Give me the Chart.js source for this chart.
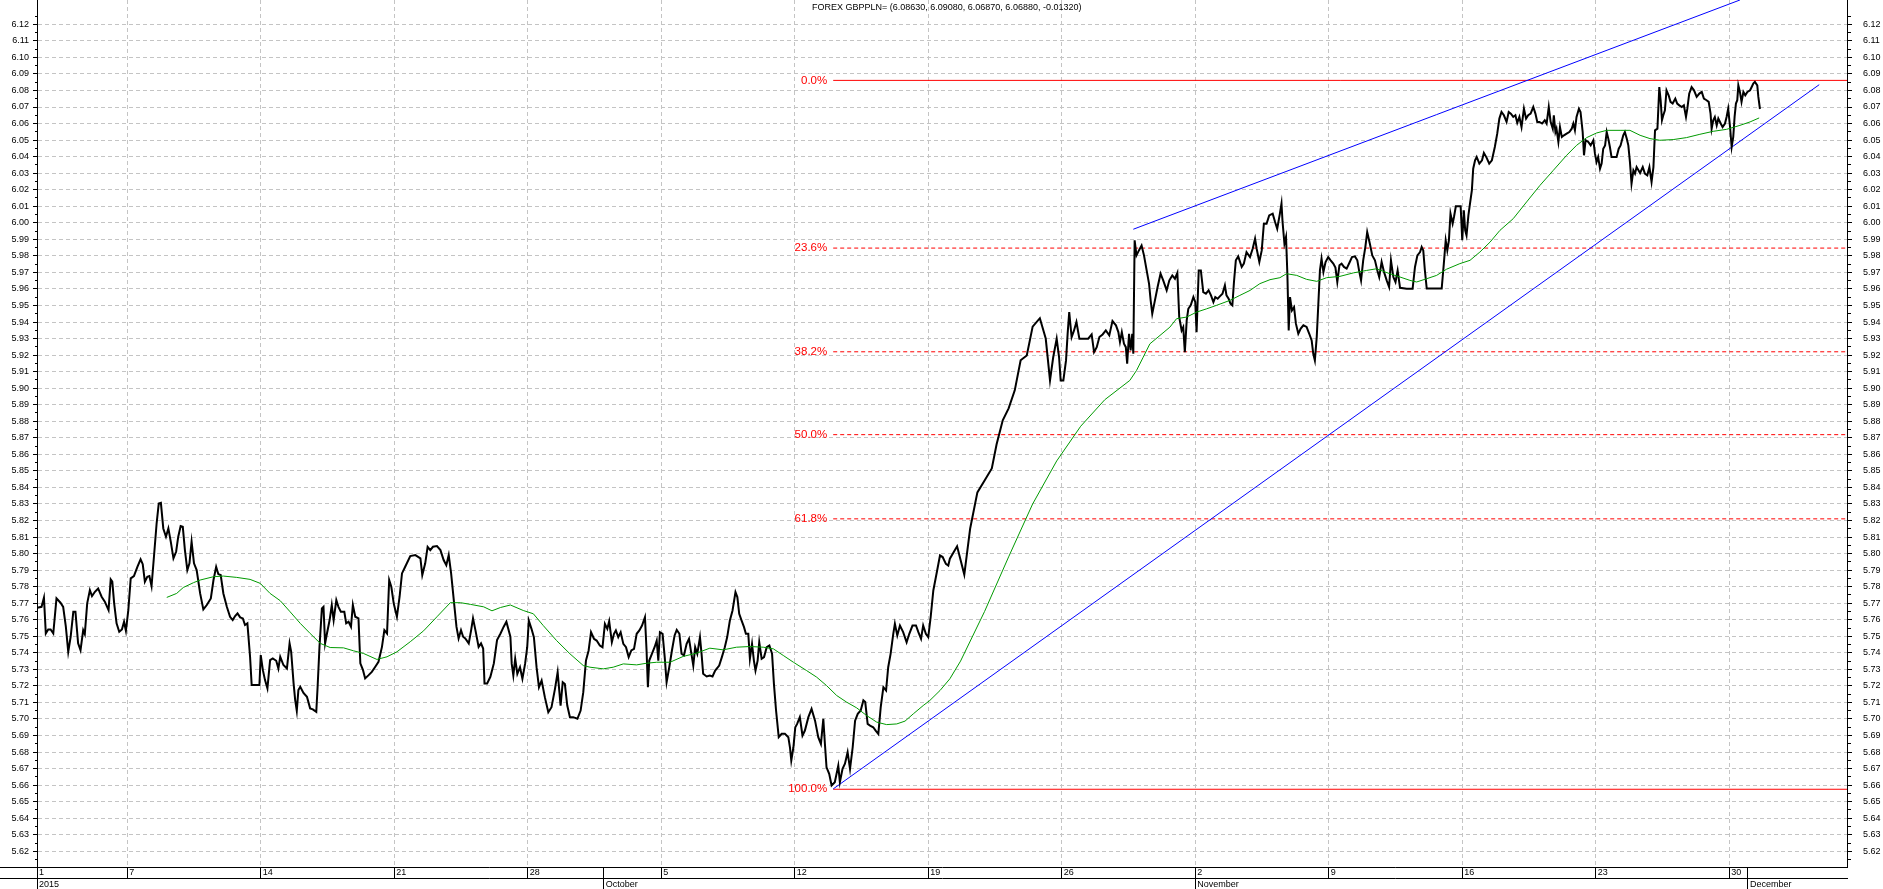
<!DOCTYPE html>
<html>
<head>
<meta charset="utf-8">
<title>FOREX GBPPLN=</title>
<script src="https://cdn.jsdelivr.net/npm/chart.js@4.4.1/dist/chart.umd.min.js"></script>
<style>
  body { margin: 0; background: #fff; }
  #wrap { position: relative; width: 1883px; height: 889px; }
  #title { position: absolute; left: 812px; top: 2px; font: 9px 'Liberation Sans', Arial, sans-serif; line-height: 10px; color: #000; white-space: pre; }
</style>
</head>
<body>
<div id="wrap">
  <canvas id="ourChart" width="1883" height="889"></canvas>
  <div id="title"></div>
</div>
<script>
// x values are trading days counted from 1 September 2015
const lastQuote = ['6.08630', '6.09080', '6.06870', '6.06880', '-0.01320'];

const weekDays = [0.62, 4, 9, 14, 19, 24, 29, 34, 39, 44, 49, 54, 59, 64];
const weekLabels = ['1', '7', '14', '21', '28', '5', '12', '19', '26', '2', '9', '16', '23', '30'];
const monthDays = [0.62, 21.85, 44, 64.7];
const monthLabels = ['2015', 'October', 'November', 'December'];

// GBP/PLN quotes [day, price]
const priceSep = [[0.63,5.7672],[0.79,5.7678],[0.88,5.7733],[0.95,5.7517],[1.04,5.7541],[1.13,5.7541],[1.23,5.7517],[1.35,5.7729],[1.50,5.7703],[1.60,5.7678],[1.70,5.7558],[1.79,5.7406],[1.88,5.7497],[1.98,5.7648],[2.06,5.7648],[2.16,5.7457],[2.25,5.7416],[2.35,5.7537],[2.41,5.7513],[2.50,5.7699],[2.60,5.7779],[2.68,5.7743],[2.79,5.7769],[2.91,5.7789],[3.04,5.7739],[3.16,5.7709],[3.30,5.7658],[3.38,5.7844],[3.44,5.7830],[3.51,5.7699],[3.60,5.7578],[3.70,5.7527],[3.80,5.7541],[3.88,5.7588],[3.95,5.7533],[4.04,5.7658],[4.13,5.7850],[4.25,5.7864],[4.38,5.7920],[4.50,5.7965],[4.58,5.7936],[4.66,5.7830],[4.75,5.7860],[4.83,5.7864],[4.91,5.7803],[5.00,5.7981],[5.10,5.8182],[5.18,5.8303],[5.26,5.8307],[5.35,5.8152],[5.45,5.8102],[5.54,5.8152],[5.63,5.8072],[5.73,5.7971],[5.83,5.8011],[5.91,5.8102],[6.00,5.8166],[6.08,5.8162],[6.16,5.8021],[6.25,5.7900],[6.33,5.7941],[6.41,5.8072],[6.50,5.7941],[6.60,5.7900],[6.73,5.7759],[6.85,5.7662],[6.98,5.7689],[7.13,5.7729],[7.23,5.7840],[7.33,5.7920],[7.41,5.7876],[7.50,5.7870],[7.60,5.7759],[7.73,5.7678],[7.85,5.7618],[7.95,5.7598],[8.04,5.7622],[8.13,5.7638],[8.23,5.7614],[8.33,5.7608],[8.41,5.7568],[8.50,5.7578],[8.60,5.7376],[8.66,5.7205],[8.95,5.7205],[9.00,5.7386],[9.08,5.7295],[9.16,5.7235],[9.25,5.7185],[9.35,5.7356],[9.45,5.7366],[9.58,5.7352],[9.66,5.7305],[9.73,5.7376],[9.85,5.7326],[9.98,5.7305],[10.08,5.7457],[10.14,5.7406],[10.23,5.7215],[10.29,5.7114],[10.35,5.7049],[10.41,5.7175],[10.48,5.7195],[10.60,5.7158],[10.73,5.7134],[10.85,5.7064],[10.95,5.7058],[11.08,5.7043],[11.13,5.7195],[11.20,5.7436],[11.29,5.7668],[11.35,5.7678],[11.41,5.7457],[11.48,5.7517],[11.58,5.7598],[11.66,5.7689],[11.73,5.7598],[11.83,5.7719],[11.91,5.7678],[12.00,5.7648],[12.13,5.7648],[12.20,5.7578],[12.29,5.7588],[12.38,5.7558],[12.45,5.7689],[12.54,5.7618],[12.66,5.7608],[12.73,5.7336],[12.83,5.7295],[12.91,5.7245],[13.04,5.7265],[13.16,5.7285],[13.29,5.7316],[13.41,5.7346],[13.54,5.7436],[13.63,5.7537],[13.73,5.7517],[13.81,5.7840],[13.89,5.7799],[13.98,5.7699],[14.10,5.7618],[14.20,5.7739],[14.29,5.7880],[14.41,5.7920],[14.60,5.7985],[14.79,5.7991],[14.98,5.7971],[15.05,5.7870],[15.16,5.7941],[15.25,5.8041],[15.35,5.8021],[15.45,5.8041],[15.60,5.8045],[15.73,5.8021],[15.85,5.7961],[15.95,5.7930],[16.04,5.7991],[16.13,5.7880],[16.23,5.7719],[16.33,5.7558],[16.41,5.7487],[16.50,5.7537],[16.58,5.7497],[16.66,5.7487],[16.79,5.7457],[16.88,5.7537],[16.95,5.7608],[17.04,5.7537],[17.16,5.7436],[17.25,5.7457],[17.33,5.7426],[17.38,5.7215],[17.48,5.7215],[17.60,5.7255],[17.73,5.7336],[17.85,5.7477],[17.98,5.7517],[18.10,5.7558],[18.20,5.7588],[18.35,5.7497],[18.40,5.7333],[18.46,5.7263],[18.53,5.7364],[18.61,5.7273],[18.71,5.7313],[18.80,5.7243],[18.90,5.7333],[18.98,5.7434],[19.04,5.7595],[19.14,5.7545],[19.23,5.7495],[19.33,5.7313],[19.42,5.7192],[19.52,5.7232],[19.64,5.7132],[19.77,5.7041],[19.89,5.7071],[20.02,5.7182],[20.12,5.7283],[20.23,5.7081],[20.31,5.7222],[20.39,5.7212],[20.48,5.7081],[20.58,5.7011],[20.70,5.7011],[20.86,5.7001],[20.98,5.7051],[21.08,5.7162],[21.18,5.7353],[21.28,5.7414],[21.37,5.7525],[21.48,5.7485],[21.58,5.7474],[21.70,5.7444],[21.80,5.7434]];

const priceOct = [[21.89,5.7575],[21.98,5.7545],[22.05,5.7591],[22.15,5.7464],[22.23,5.7515],[22.30,5.7535],[22.39,5.7495],[22.48,5.7525],[22.58,5.7454],[22.68,5.7434],[22.78,5.7374],[22.88,5.7414],[22.98,5.7424],[23.08,5.7515],[23.18,5.7535],[23.28,5.7565],[23.39,5.7616],[23.45,5.7414],[23.50,5.7192],[23.55,5.7353],[23.65,5.7394],[23.75,5.7434],[23.83,5.7474],[23.89,5.7353],[23.95,5.7525],[24.05,5.7515],[24.13,5.7374],[24.20,5.7222],[24.30,5.7313],[24.40,5.7414],[24.50,5.7505],[24.58,5.7539],[24.68,5.7515],[24.76,5.7394],[24.85,5.7384],[24.95,5.7454],[25.04,5.7485],[25.13,5.7394],[25.20,5.7323],[25.27,5.7434],[25.35,5.7394],[25.45,5.7495],[25.51,5.7394],[25.57,5.7273],[25.70,5.7257],[25.82,5.7263],[25.92,5.7257],[26.02,5.7293],[26.17,5.7323],[26.27,5.7374],[26.38,5.7434],[26.47,5.7495],[26.57,5.7595],[26.67,5.7656],[26.78,5.7767],[26.85,5.7737],[26.92,5.7636],[27.01,5.7595],[27.10,5.7555],[27.17,5.7515],[27.26,5.7515],[27.32,5.7364],[27.40,5.7454],[27.47,5.7353],[27.53,5.7293],[27.61,5.7353],[27.67,5.7464],[27.76,5.7364],[27.85,5.7374],[27.95,5.7434],[28.05,5.7444],[28.15,5.7394],[28.22,5.7212],[28.30,5.7051],[28.40,5.6890],[28.51,5.6910],[28.63,5.6910],[28.76,5.6890],[28.82,5.6829],[28.87,5.6749],[28.95,5.6829],[29.02,5.6950],[29.09,5.6970],[29.19,5.7011],[29.29,5.6900],[29.38,5.6930],[29.51,5.7011],[29.63,5.7061],[29.76,5.6990],[29.88,5.6890],[29.98,5.6849],[30.07,5.7001],[30.13,5.6849],[30.19,5.6708],[30.29,5.6668],[30.38,5.6598],[30.50,5.6618],[30.63,5.6718],[30.69,5.6618],[30.79,5.6698],[30.88,5.6729],[30.98,5.6799],[31.07,5.6698],[31.17,5.6829],[31.26,5.6990],[31.36,5.7031],[31.47,5.7051],[31.57,5.7112],[31.64,5.7102],[31.73,5.6970],[31.82,5.6960],[31.94,5.6950],[32.03,5.6930],[32.13,5.6910],[32.22,5.7071],[32.32,5.7192],[32.42,5.7172],[32.50,5.7313],[32.59,5.7394],[32.69,5.7515],[32.75,5.7575],[32.84,5.7505],[32.94,5.7565],[33.06,5.7525],[33.19,5.7464],[33.29,5.7515],[33.41,5.7565],[33.54,5.7565],[33.63,5.7525],[33.73,5.7485],[33.81,5.7565],[33.91,5.7515],[34.00,5.7495],[34.09,5.7616],[34.19,5.7777],[34.31,5.7878],[34.44,5.7989],[34.54,5.7979],[34.66,5.7938],[34.75,5.7928],[34.81,5.7969],[35.08,5.8044],[35.35,5.7873],[35.57,5.8152],[35.84,5.8370],[36.11,5.8442],[36.38,5.8515],[36.56,5.8661],[36.79,5.8806],[37.01,5.8878],[37.24,5.8987],[37.46,5.9169],[37.69,5.9198],[37.91,5.9372],[38.18,5.9423],[38.40,5.9300],[38.56,5.9047],[38.68,5.9187],[38.81,5.9299],[38.90,5.9187],[38.96,5.9047],[39.06,5.9047],[39.16,5.9168],[39.22,5.9328],[39.28,5.9460],[39.37,5.9308],[39.46,5.9349],[39.55,5.9400],[39.66,5.9299],[39.81,5.9299],[39.99,5.9299],[40.12,5.9325],[40.21,5.9218],[40.31,5.9248],[40.41,5.9309],[40.53,5.9325],[40.65,5.9349],[40.78,5.9319],[40.90,5.9406],[41.03,5.9380],[41.12,5.9339],[41.18,5.9279],[41.25,5.9339],[41.33,5.9269],[41.40,5.9248],[41.45,5.9148],[41.52,5.9329],[41.58,5.9228],[41.64,5.9329],[41.68,5.9208],[41.73,5.9894],[41.80,5.9803],[41.89,5.9833],[41.99,5.9863],[42.08,5.9803],[42.18,5.9712],[42.27,5.9631],[42.33,5.9531],[42.39,5.9450],[42.49,5.9531],[42.59,5.9612],[42.70,5.9692],[42.80,5.9652],[42.93,5.9591],[43.03,5.9652],[43.14,5.9682],[43.24,5.9662],[43.33,5.9697],[43.40,5.9430],[43.49,5.9349],[43.55,5.9369],[43.61,5.9218],[43.68,5.9410],[43.74,5.9480],[43.83,5.9501],[43.93,5.9551],[44.00,5.9521]];

const priceNov = [[44.05,5.9339],[44.13,5.9712],[44.21,5.9712],[44.30,5.9581],[44.40,5.9571],[44.50,5.9591],[44.59,5.9561],[44.68,5.9521],[44.75,5.9551],[44.84,5.9541],[44.92,5.9555],[45.02,5.9571],[45.11,5.9622],[45.17,5.9561],[45.25,5.9541],[45.32,5.9511],[45.39,5.9501],[45.45,5.9642],[45.52,5.9773],[45.61,5.9797],[45.74,5.9733],[45.82,5.9753],[45.92,5.9823],[46.05,5.9793],[46.15,5.9843],[46.24,5.9904],[46.30,5.9843],[46.40,5.9763],[46.49,5.9833],[46.57,5.9994],[46.67,5.9994],[46.77,6.0045],[46.90,6.0055],[46.99,6.0005],[47.07,5.9964],[47.17,6.0055],[47.23,6.0116],[47.27,6.0005],[47.34,5.9873],[47.40,5.9914],[47.45,5.9692],[47.50,5.9349],[47.55,5.9551],[47.62,5.9470],[47.70,5.9490],[47.77,5.9390],[47.86,5.9329],[47.95,5.9360],[48.05,5.9380],[48.17,5.9370],[48.27,5.9329],[48.36,5.9289],[48.42,5.9208],[48.48,5.9168],[48.55,5.9309],[48.61,5.9510],[48.67,5.9712],[48.73,5.9783],[48.80,5.9702],[48.88,5.9763],[48.98,5.9793],[49.07,5.9773],[49.17,5.9753],[49.25,5.9729],[49.32,5.9642],[49.40,5.9743],[49.48,5.9753],[49.57,5.9733],[49.67,5.9723],[49.77,5.9757],[49.87,5.9793],[49.98,5.9797],[50.07,5.9773],[50.14,5.9708],[50.21,5.9652],[50.29,5.9773],[50.37,5.9853],[50.44,5.9944],[50.54,5.9873],[50.63,5.9803],[50.73,5.9773],[50.82,5.9712],[50.89,5.9672],[50.98,5.9763],[51.07,5.9702],[51.17,5.9652],[51.26,5.9612],[51.33,5.9773],[51.42,5.9672],[51.50,5.9642],[51.58,5.9712],[51.67,5.9607],[51.92,5.9601],[52.14,5.9601],[52.23,5.9733],[52.32,5.9803],[52.42,5.9823],[52.48,5.9854],[52.54,5.9833],[52.60,5.9713],[52.67,5.9602],[53.23,5.9602],[53.31,5.9753],[53.38,5.9894],[53.44,5.9833],[53.50,5.9894],[53.56,6.0055],[53.64,5.9995],[53.69,6.0035],[53.76,6.0100],[53.94,6.0100],[54.00,5.9894],[54.06,6.0075],[54.11,5.9954],[54.16,5.9924],[54.23,6.0045],[54.29,6.0116],[54.36,6.0196],[54.41,6.0327],[54.48,6.0378],[54.54,6.0398],[54.64,6.0358],[54.74,6.0378],[54.81,6.0422],[54.91,6.0394],[55.01,6.0358],[55.11,6.0378],[55.22,6.0458],[55.31,6.0539],[55.39,6.0630],[55.47,6.0670],[55.56,6.0650],[55.66,6.0610],[55.74,6.0670],[55.82,6.0660],[55.91,6.0640],[55.99,6.0650],[56.06,6.0604],[56.14,6.0640],[56.22,6.0579],[56.31,6.0690],[56.39,6.0630],[56.47,6.0650],[56.56,6.0660],[56.66,6.0700],[56.74,6.0660],[56.81,6.0610],[56.89,6.0610],[56.99,6.0600],[57.09,6.0620],[57.16,6.0600],[57.24,6.0700],[57.31,6.0610],[57.39,6.0569],[57.43,6.0650],[57.49,6.0549],[57.53,6.0569],[57.60,6.0489],[57.66,6.0579],[57.73,6.0519],[57.81,6.0529],[57.91,6.0539],[58.01,6.0549],[58.10,6.0569],[58.16,6.0600],[58.22,6.0559],[58.28,6.0640],[58.37,6.0690],[58.43,6.0670],[58.51,6.0549],[58.56,6.0408],[58.62,6.0499],[58.72,6.0489],[58.81,6.0468],[58.91,6.0499],[58.97,6.0418],[59.03,6.0368],[59.09,6.0398],[59.16,6.0327],[59.22,6.0358],[59.28,6.0448],[59.35,6.0468],[59.41,6.0549],[59.47,6.0509],[59.53,6.0458],[59.59,6.0398],[59.78,6.0398],[59.86,6.0448],[59.93,6.0468],[60.03,6.0529],[60.09,6.0549],[60.16,6.0509],[60.22,6.0468],[60.28,6.0368],[60.34,6.0237],[60.41,6.0317],[60.47,6.0297],[60.53,6.0337],[60.66,6.0301],[60.76,6.0337],[60.84,6.0297],[60.93,6.0287],[61.01,6.0337],[61.09,6.0247],[61.16,6.0337],[61.22,6.0559],[61.31,6.0569],[61.38,6.0821],[61.43,6.0741],[61.48,6.0620],[61.53,6.0650],[61.59,6.0680],[61.65,6.0801],[61.73,6.0771],[61.80,6.0731],[61.88,6.0721],[61.98,6.0751],[62.05,6.0721],[62.13,6.0710],[62.22,6.0700],[62.30,6.0710],[62.38,6.0640],[62.43,6.0690],[62.50,6.0781],[62.59,6.0821],[62.68,6.0801],[62.78,6.0761],[62.88,6.0781],[62.97,6.0791],[63.05,6.0751],[63.15,6.0741],[63.23,6.0731],[63.30,6.0660],[63.34,6.0569],[63.40,6.0620],[63.46,6.0640],[63.53,6.0589],[63.59,6.0630],[63.68,6.0600],[63.75,6.0579],[63.84,6.0600],[63.90,6.0640],[63.96,6.0690],[64.03,6.0579],[64.09,6.0458],[64.15,6.0519],[64.20,6.0640],[64.25,6.0721],[64.30,6.0741],[64.34,6.0831],[64.40,6.0791],[64.46,6.0731],[64.53,6.0791],[64.60,6.0771]];

const priceDec = [[64.68,6.0791],[64.78,6.0801],[64.84,6.0821],[64.90,6.0842],[64.96,6.0852],[65.05,6.0831],[65.09,6.0761],[65.15,6.0688]];

// moving average (green)
const movingAvg = [[5.48,5.7735],[5.85,5.7759],[6.10,5.7795],[6.48,5.7824],[6.73,5.7840],[7.23,5.7860],[7.60,5.7864],[8.10,5.7856],[8.60,5.7844],[8.98,5.7820],[9.35,5.7759],[9.73,5.7715],[10.10,5.7648],[10.48,5.7578],[10.85,5.7517],[11.23,5.7457],[11.60,5.7432],[12.10,5.7430],[12.48,5.7412],[12.85,5.7396],[13.35,5.7360],[13.73,5.7376],[14.10,5.7406],[14.60,5.7467],[15.10,5.7533],[15.60,5.7618],[16.10,5.7703],[16.48,5.7703],[16.85,5.7693],[17.35,5.7678],[17.66,5.7654],[17.98,5.7674],[18.35,5.7689],[18.83,5.7656],[19.21,5.7636],[19.58,5.7565],[20.08,5.7474],[20.58,5.7394],[21.08,5.7323],[21.33,5.7313],[21.83,5.7303],[22.20,5.7313],[22.58,5.7333],[23.08,5.7327],[23.45,5.7337],[23.83,5.7343],[24.33,5.7343],[24.82,5.7378],[25.32,5.7398],[25.82,5.7428],[26.32,5.7418],[26.82,5.7434],[27.32,5.7438],[27.82,5.7434],[28.20,5.7424],[28.57,5.7384],[28.95,5.7343],[29.44,5.7293],[29.82,5.7253],[30.19,5.7202],[30.57,5.7142],[30.94,5.7102],[31.32,5.7067],[31.69,5.7021],[32.07,5.6981],[32.44,5.6966],[32.82,5.6970],[33.13,5.6987],[33.44,5.7031],[33.81,5.7081],[34.06,5.7112],[34.44,5.7172],[34.81,5.7243],[35.21,5.7350],[36.11,5.7650],[37.01,5.7980],[37.91,5.8300],[38.81,5.8560],[39.71,5.8770],[40.61,5.8930],[41.55,5.9047],[41.80,5.9107],[42.05,5.9187],[42.30,5.9268],[42.68,5.9319],[43.05,5.9369],[43.30,5.9420],[43.68,5.9430],[44.05,5.9460],[44.43,5.9480],[44.80,5.9501],[45.30,5.9531],[45.67,5.9561],[46.05,5.9591],[46.42,5.9632],[46.80,5.9656],[47.17,5.9668],[47.42,5.9692],[47.80,5.9682],[48.17,5.9658],[48.55,5.9646],[48.92,5.9668],[49.42,5.9676],[49.92,5.9697],[50.42,5.9712],[50.79,5.9722],[51.29,5.9692],[51.67,5.9672],[52.04,5.9652],[52.29,5.9642],[52.67,5.9662],[53.04,5.9682],[53.41,5.9719],[53.91,5.9753],[54.29,5.9773],[54.66,5.9823],[55.04,5.9883],[55.41,5.9954],[55.91,6.0025],[56.41,6.0126],[56.91,6.0226],[57.41,6.0317],[57.91,6.0408],[58.28,6.0468],[58.66,6.0515],[59.03,6.0543],[59.41,6.0559],[59.91,6.0559],[60.28,6.0559],[60.66,6.0529],[61.03,6.0509],[61.40,6.0499],[61.90,6.0503],[62.40,6.0515],[62.90,6.0535],[63.40,6.0553],[63.90,6.0565],[64.40,6.0589],[64.78,6.0610],[65.12,6.0634]];

// trend lines (blue) [day, price] end points
const trendLower = [[30.44, 5.6577], [67.37, 6.0835]];
const trendUpper = [[41.68, 5.9961], [64.40, 6.1347]];

// fibonacci retracement
const fibLabels = ['0.0%', '23.6%', '38.2%', '50.0%', '61.8%', '100.0%'];
const fibLevels = [6.0861, 5.9847, 5.9220, 5.8719, 5.8210, 5.6575];
const fibStartDay = 30.44;

const X_MIN = 0.62, X_MAX = 68.41;
const Y_MIN = 5.6105, Y_MAX = 6.1347;
const FONT = "'Liberation Sans', Arial, sans-serif";
const GRID = '#c4c4c4';

document.getElementById('title').textContent = 'FOREX GBPPLN= (' + lastQuote.join(', ') + ')';

const toPoints = pairs => pairs.map(p => ({x: p[0], y: p[1]}));
const isMajor = v => Math.round(v * 200) % 2 === 0;
const minorTick = c => c.tick && !isMajor(c.tick.value);

function buildYTicks(scale) {
    let ticks = [];
    for (let k = 1123; k <= 1225; k++) {
        ticks.push({value: k / 200});
    }
    scale.ticks = ticks;
}

function yAxis(position, tickLen, pad, minorDash, minorOffset) {
    return {
        type: 'linear',
        position: position,
        min: Y_MIN,
        max: Y_MAX,
        afterBuildTicks: buildYTicks,
        afterFit: s => { s.width = position === 'left' ? 37 : 36; s.paddingTop = 0; s.paddingBottom = 0; },
        ticks: {
            autoSkip: false,
            padding: pad,
            color: '#000',
            font: {family: FONT, size: 9},
            callback: v => isMajor(v) ? v.toFixed(2) : ''
        },
        grid: {
            drawOnChartArea: position === 'left',
            color: c => minorTick(c) ? 'rgba(0,0,0,0)' : GRID,
            tickColor: '#000',
            tickLength: tickLen,
            tickBorderDash: c => minorTick(c) ? minorDash : [],
            tickBorderDashOffset: c => minorTick(c) ? minorOffset : 0
        },
        border: {color: '#000', dash: [4, 3]}
    };
}

const xTickDays = weekDays.concat(monthDays.filter(d => !weekDays.includes(d))).sort((a, b) => a - b);

const fibLabelPlugin = {
    id: 'fibLabels',
    afterDatasetsDraw(chart) {
        const {ctx, scales: {x, y}} = chart;
        ctx.save();
        ctx.font = '11.5px ' + FONT;
        ctx.fillStyle = '#ff0000';
        ctx.textAlign = 'right';
        ctx.textBaseline = 'middle';
        fibLevels.forEach((lv, i) => {
            ctx.fillText(fibLabels[i], x.getPixelForValue(fibStartDay) - 6, y.getPixelForValue(lv));
        });
        ctx.restore();
    }
};

// the two date rows run under the left labels as well
const rowLinesPlugin = {
    id: 'rowLines',
    afterDraw(chart) {
        const {ctx, scales: {x, x2}} = chart;
        ctx.save();
        ctx.strokeStyle = '#000';
        ctx.lineWidth = 1;
        ctx.beginPath();
        [x.top, x2.top].forEach(t => {
            ctx.moveTo(0, Math.round(t) + 0.5);
            ctx.lineTo(x.left, Math.round(t) + 0.5);
        });
        ctx.stroke();
        ctx.restore();
    }
};

const fibSets = fibLevels.map((lv, i) => ({
    data: [{x: fibStartDay, y: lv}, {x: X_MAX, y: lv}],
    borderColor: '#ff0000',
    borderWidth: 1,
    borderDash: (i === 0 || i === fibLevels.length - 1) ? [] : [4, 3]
}));

const ourChart = new Chart(document.getElementById('ourChart'), {
    type: 'line',
    data: {
        datasets: [
            {data: toPoints(movingAvg), borderColor: '#009a00', borderWidth: 1},
            {data: toPoints(priceSep.concat(priceOct, priceNov, priceDec)), borderColor: '#000', borderWidth: 2},
            {data: toPoints(trendLower), borderColor: '#0000ff', borderWidth: 1},
            {data: toPoints(trendUpper), borderColor: '#0000ff', borderWidth: 1}
        ].concat(fibSets)
    },
    options: {
        responsive: false,
        animation: false,
        devicePixelRatio: 1,
        events: [],
        layout: {padding: 0},
        elements: {point: {radius: 0}, line: {tension: 0}},
        plugins: {legend: {display: false}, tooltip: {enabled: false}},
        scales: {
            x: {
                type: 'linear',
                position: 'bottom',
                weight: 0,
                min: X_MIN,
                max: X_MAX,
                afterBuildTicks: s => { s.ticks = xTickDays.map(v => ({value: v})); },
                afterFit: s => { s.height = 11; s.paddingLeft = 0; s.paddingRight = 0; },
                ticks: {
                    autoSkip: false,
                    maxRotation: 0,
                    align: 'start',
                    labelOffset: 2,
                    padding: -11,
                    color: '#000',
                    font: {family: FONT, size: 9},
                    callback: v => weekDays.includes(v) ? weekLabels[weekDays.indexOf(v)] : ''
                },
                grid: {
                    color: c => (c.tick && !weekDays.includes(c.tick.value)) ? 'rgba(0,0,0,0)' : GRID,
                    tickColor: '#000',
                    tickLength: 11
                },
                border: {color: '#000', dash: [4, 3]}
            },
            x2: {
                type: 'linear',
                position: 'bottom',
                weight: 1,
                min: X_MIN,
                max: X_MAX,
                afterBuildTicks: s => { s.ticks = monthDays.map(v => ({value: v})); },
                afterFit: s => { s.height = 11; s.paddingLeft = 0; s.paddingRight = 0; },
                ticks: {
                    autoSkip: false,
                    maxRotation: 0,
                    align: 'start',
                    labelOffset: 2,
                    padding: -10,
                    color: '#000',
                    font: {family: FONT, size: 9},
                    callback: v => monthLabels[monthDays.indexOf(v)]
                },
                grid: {drawOnChartArea: false, tickColor: '#000', tickLength: 11},
                border: {color: '#000'}
            },
            y: yAxis('left', 4, 4, [2, 2], 2),
            y2: yAxis('right', 5, 11, [3, 10], 0)
        }
    },
    plugins: [fibLabelPlugin, rowLinesPlugin]
});
</script>
</body>
</html>
